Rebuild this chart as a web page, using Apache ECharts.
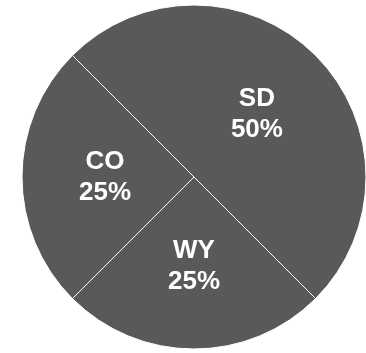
<!DOCTYPE html>
<html>
<head>
<meta charset="utf-8">
<script src="https://cdn.jsdelivr.net/npm/echarts@6/dist/echarts.min.js"></script>
<style>
  html, body { margin: 0; padding: 0; background: #fff; }
  #chart { width: 366px; height: 353px; }
</style>
</head>
<body>
<div id="chart"></div>
<script>
const states = ['SD', 'WY', 'CO']
const shares = [50, 25, 25]

const chart = echarts.init(document.getElementById('chart'))

chart.setOption({
  animation: false,
  series: [{
    type: 'pie',
    center: [194, 177],
    radius: 172,
    startAngle: 135,
    clockwise: true,
    itemStyle: {
      color: '#595959',
      borderColor: '#ffffff',
      borderWidth: 1
    },
    label: {
      position: 'inside',
      formatter: '{b}\n{d}%',
      color: '#ffffff',
      fontFamily: 'Liberation Sans, Arial, sans-serif',
      fontWeight: 'bold',
      fontSize: 26,
      lineHeight: 31
    },
    labelLine: { show: false },
    emphasis: { disabled: true },
    data: states.map((name, i) => ({ name, value: shares[i] }))
  }]
})
</script>
</body>
</html>
